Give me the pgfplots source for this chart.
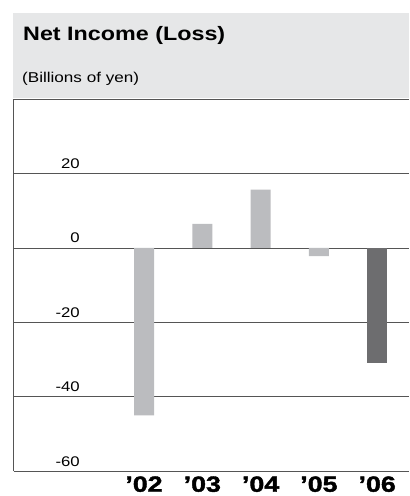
\documentclass[border=0pt]{standalone}
\usepackage{fontspec}
\setmainfont{Liberation Sans}[FakeStretch=1.2]
\newfontfamily\heavy{Liberation Sans}[FakeStretch=1.22, BoldFeatures={FakeBold=1.8}]
\usepackage{pgfplots}
\pgfplotsset{compat=1.18}
\definecolor{hdr}{HTML}{E6E7E8}
\definecolor{barlight}{HTML}{BBBCBF}
\definecolor{bardark}{HTML}{6D6D6F}
\definecolor{lineclr}{HTML}{555555}
\begin{document}
\begin{tikzpicture}[x=1bp,y=1bp]
\path[use as bounding box] (0,0) rectangle (409,496);
\fill[hdr] (13,398) rectangle (409,483);
\node[anchor=base west, inner sep=0, font=\bfseries\fontsize{19.5}{22}\selectfont] at (23,455) {Net Income (Loss)};
\node[anchor=base west, inner sep=0, font=\fontsize{14.3}{16}\selectfont] at (22,413) {(Billions of yen)};
\begin{axis}[
  at={(144bp,248bp)}, anchor=origin,
  x=58.3bp, y=3.72bp,
  xmin=-2.23, xmax=4.55, ymin=-60, ymax=40,
  axis x line*=bottom, axis y line*=left,
  axis line style={lineclr, line width=1bp, -},
  ybar, bar width=20bp, bar shift=0pt,
  xtick={0,1,2,3,4},
  xticklabels={’02,’03,’04,’05,’06},
  xticklabel style={font=\heavy\bfseries\fontsize{22}{23}\selectfont, anchor=base, inner sep=0, yshift=-20.5bp},
  ytick={-60,-40,-20,0,20},
  yticklabels={-60,-40,-20,0,20},
  yticklabel style={font=\fontsize{14}{16}\selectfont, anchor=base east, inner sep=0, xshift=66bp, yshift=5bp},
  major tick length=0pt,
  ymajorgrids, grid style={lineclr, line width=0.9bp},
  clip=false,
]
\draw[lineclr, line width=1bp] (rel axis cs:-0.003,1) -- (rel axis cs:1,1);
\addplot[fill=barlight, draw=none] coordinates {(0,-45) (1,6.5) (2,15.7) (3,-2.2)};
\addplot[fill=bardark, draw=none] coordinates {(4,-30.8)};
\end{axis}
\end{tikzpicture}
\end{document}
